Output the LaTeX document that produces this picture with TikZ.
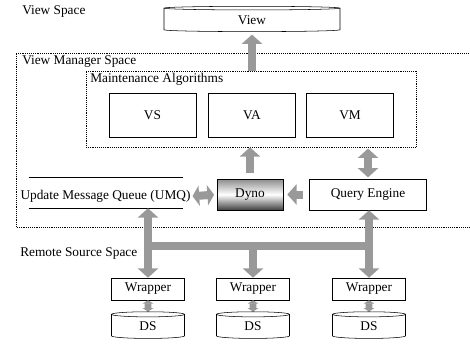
\documentclass[tikz,border=0pt]{standalone}
\usepackage{fontspec}
\setmainfont{Liberation Serif}
\usetikzlibrary{arrows.meta,shapes.geometric}

\begin{document}
\begin{tikzpicture}[x=0.75pt, y=-0.75pt, font=\fontsize{10}{12}\selectfont,
        fat/.style={draw=black!40, line width=6pt},
        fatarrow/.style={fat, -{Triangle[width=15pt,length=7pt]}},
        fatboth/.style={fat, {Triangle[width=15pt,length=7pt]}-{Triangle[width=15pt,length=7pt]}},
        shortboth/.style={fat, {Triangle[width=15pt,length=5pt]}-{Triangle[width=15pt,length=5pt]}},
        thinboth/.style={draw=black!40, line width=5pt, {Triangle[width=8pt,length=2.5pt]}-{Triangle[width=8pt,length=2.5pt]}},
        algbox/.style={draw, rectangle, minimum width=65pt, minimum height=33pt},
        wrapbox/.style={draw, rectangle, minimum width=54.75pt, minimum height=16.5pt, inner sep=0pt},
        store/.style={draw, cylinder, shape border rotate=90, aspect=0.3, minimum width=54.75pt, minimum height=20pt, inner sep=0pt},
        space/.style={anchor=west, inner sep=0pt}]
    \useasboundingbox (0,0) rectangle (470,343);
    \draw [densely dotted] (472,53) -- (16,53) -- (16,227) -- (472,227);
    \node [space] (vs0) at (22,12) {View Space};
    \node [space] (vms) at (22,62) {View Manager Space};
    \node [space] (rss) at (20,253) {Remote Source Space};
    \node [draw, cylinder, shape border rotate=90, aspect=0.13, minimum width=132pt, minimum height=19pt, inner sep=0pt] (view) at (252,20) {View};
    \node [draw, densely dotted, rectangle, minimum width=247.5pt, minimum height=57pt] (maint) at (251,109) {};
    \node [space, anchor=north west] (malabel) at (90,73) {Maintenance Algorithms};
    \node [algbox] (vsbox) at (152.5,115) {VS};
    \node [algbox] (vabox) at (252,115) {VA};
    \node [algbox] (vmbox) at (350,115) {VM};
    \node [draw, rectangle, minimum width=49.5pt, minimum height=23.25pt, top color=black!45, bottom color=black!75, middle color=white] (dyno) at (250,194.5) {Dyno};
    \node [draw, rectangle, minimum width=87.75pt, minimum height=23.25pt] (qe) at (368,194.5) {Query Engine};
    \node [rectangle, minimum width=115.5pt, minimum height=22.5pt] (umq) at (106,193) {};
    \node (umqtext) at (105.5,196) {Update Message Queue (UMQ)};
    \draw (umq.north west) -- (umq.north east);
    \draw (umq.south west) -- (umq.south east);
    \node [wrapbox] (w1) at (148,289) {Wrapper};
    \node [wrapbox] (w2) at (253,289) {Wrapper};
    \node [wrapbox] (w3) at (369,289) {Wrapper};
    \node [store] (ds1) at (148,326.5) {DS};
    \node [store] (ds2) at (253,326.5) {DS};
    \node [store] (ds3) at (369,326.5) {DS};
    \coordinate (bus) at (0,246);
    \draw [fatarrow, shorten >=2pt] (view.south |- maint.north) -- (view.south);
    \draw [fatarrow, shorten <=4pt] (dyno.north) -- (dyno.north |- maint.south);
    \draw [fatboth, shorten <=1pt, shorten >=1pt] (qe.north |- maint.south) -- (qe.north);
    \draw [shortboth, shorten <=-2pt, shorten >=2pt] (umqtext.east) -- (dyno.west);
    \draw [fatarrow, shorten <=5pt, shorten >=3pt] (qe.west) -- (dyno.east);
    \draw [fat, line cap=rect] (w1.north |- bus) -- (w3.north |- bus);
    \draw [fatboth] (w1.north |- umq.south) -- (w1.north);
    \draw [fatboth] (w3.north |- qe.south) -- (w3.north);
    \draw [fatarrow] (w2.north |- bus) -- (w2.north);
    \draw [thinboth] (w1.south) -- (ds1.north);
    \draw [thinboth] (w2.south) -- (ds2.north);
    \draw [thinboth] (w3.south) -- (ds3.north);
\end{tikzpicture}
\end{document}
